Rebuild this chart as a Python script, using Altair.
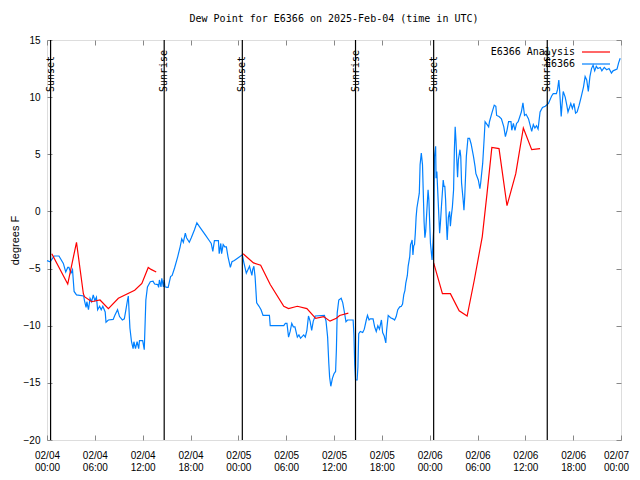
import altair as alt
import pandas as pd

FONT = "DejaVu Sans Mono"

# observed dew point (hours since 2025-02-04 00:00 UTC, deg F)
obs_feb04 = [
    (0.0, -4.3), (0.4, -4.4), (0.9, -3.9), (1.5, -3.9), (2.05, -4.55), (2.35, -5.3),
    (2.6, -4.9), (2.75, -4.9), (3.0, -5.4), (3.2, -5.1), (3.4, -7.0), (3.7, -7.3),
    (4.6, -7.4), (4.7, -7.8), (4.9, -8.4), (5.0, -7.9), (5.2, -8.6), (5.4, -7.6),
    (5.6, -7.9), (5.8, -7.3), (6.0, -7.8), (6.2, -7.5), (6.35, -8.6), (6.6, -8.3),
    (6.8, -8.6), (7.0, -8.3), (7.3, -8.8), (7.4, -9.7), (7.7, -9.5), (8.3, -9.45),
    (8.5, -9.1), (8.85, -8.6), (9.1, -9.2), (9.45, -9.5), (9.7, -9.4), (9.9, -8.6),
    (10.1, -7.75), (10.2, -7.4), (10.4, -10.2), (10.6, -11.4), (10.8, -12.0),
    (10.9, -11.4), (11.1, -12.0), (11.3, -11.4), (11.5, -12.0), (11.6, -11.3),
    (12.0, -11.3), (12.2, -12.1), (12.4, -7.75), (12.6, -6.6), (12.96, -6.15),
    (13.3, -6.1), (13.5, -6.35), (13.9, -6.4), (14.0, -6.65), (14.1, -6.0),
    (14.3, -6.6), (14.4, -5.85), (14.6, -6.6), (14.7, -6.0), (14.8, -6.6),
    (15.05, -6.65), (15.2, -6.65), (15.5, -5.7), (15.7, -5.6), (16.0, -4.95),
    (16.4, -3.95), (16.7, -3.1), (16.9, -2.4), (17.1, -2.7), (17.35, -1.9),
    (17.5, -2.3), (17.85, -2.7), (18.1, -2.3), (18.5, -1.6), (18.8, -1.0),
    (19.1, -1.3), (19.5, -1.7), (19.9, -2.1), (20.3, -2.5), (20.6, -2.8),
    (20.8, -3.5), (21.0, -2.55), (21.5, -2.55), (21.6, -3.7), (21.8, -2.8),
    (21.9, -3.7), (22.1, -2.9), (22.3, -3.1), (22.5, -3.1), (22.7, -3.95),
    (23.0, -4.9), (23.2, -4.4), (23.5, -4.3), (23.9, -4.1),
]
obs_feb05 = [
    (24.5, -3.8), (24.7, -4.5), (25.0, -5.4), (25.2, -5.1), (25.4, -4.8), (25.7, -5.6),
    (25.8, -5.1), (25.95, -4.8), (26.1, -5.7), (26.3, -8.0), (26.6, -8.3), (26.85, -8.6),
    (27.1, -9.1), (27.9, -9.1), (28.0, -10.0), (29.7, -10.0), (29.9, -9.8), (30.1, -9.8),
    (30.3, -11.0), (30.5, -10.5), (30.7, -9.8), (30.9, -10.1), (31.1, -10.1),
    (31.4, -11.0), (31.6, -10.8), (31.8, -11.1), (32.2, -10.8), (32.4, -11.0),
    (32.6, -10.4), (32.8, -9.15), (33.0, -9.6), (33.2, -10.4), (33.4, -9.6),
    (33.65, -9.15), (34.8, -9.1), (35.0, -9.6), (35.2, -11.0), (35.35, -13.3),
    (35.45, -14.5), (35.6, -15.3), (35.8, -14.6), (36.0, -14.2), (36.2, -14.0),
    (36.3, -12.1), (36.4, -8.9), (36.6, -7.75), (36.9, -7.6), (37.1, -8.0),
    (37.3, -8.8), (37.5, -9.65), (37.7, -9.5), (38.4, -9.5), (38.5, -10.8),
    (38.6, -13.4), (38.7, -14.75), (38.9, -14.75), (39.0, -13.6), (39.1, -10.7),
    (39.3, -10.5), (39.6, -10.6), (39.8, -10.3), (40.05, -9.5), (40.2, -9.1),
    (40.4, -9.5), (40.55, -9.4), (40.9, -9.4), (41.1, -10.1), (41.3, -10.5),
    (41.5, -10.0), (41.7, -10.3), (41.95, -9.5), (42.1, -10.6), (42.3, -10.9),
    (42.5, -11.5), (42.6, -10.4), (42.8, -9.1), (43.1, -9.3), (43.4, -9.4),
    (43.6, -9.5), (43.8, -9.2), (44.0, -8.6), (44.25, -8.35), (44.45, -8.3),
    (44.6, -8.1), (44.75, -7.3), (44.9, -6.9), (45.0, -6.3), (45.2, -5.6),
    (45.3, -4.8), (45.5, -3.95), (45.6, -2.9), (45.7, -2.75), (45.8, -2.5),
    (45.9, -3.8), (46.0, -3.0), (46.1, -2.9), (46.2, -1.9), (46.3, -0.5),
    (46.4, 0.3), (46.7, 1.6), (46.8, 4.1), (46.95, 5.1), (47.1, 4.1), (47.2, 1.6),
    (47.3, -0.9), (47.4, -2.3), (47.5, -1.75), (47.6, -0.5), (47.8, 1.9), (47.9, 1.0),
]
obs_feb06 = [
    (48.1, -2.8), (48.3, -4.25), (48.5, -1.6), (48.6, 4.8), (48.75, 5.7), (48.8, 2.9),
    (48.9, 3.5), (49.1, 0.4), (49.25, -1.9), (49.35, -1.0), (49.5, 0.7), (49.7, 2.75),
    (49.8, 2.2), (49.9, 2.2), (50.0, 1.0), (50.1, -1.0), (50.2, -2.5), (50.35, -0.5),
    (50.5, 0.0), (50.6, -1.3), (50.7, -0.5), (50.85, 0.4), (51.0, 1.9), (51.1, 5.4),
    (51.2, 7.4), (51.3, 6.2), (51.4, 4.5), (51.5, 3.0), (51.6, 4.5), (51.8, 5.4),
    (51.9, 4.8), (52.0, 2.5), (52.2, 1.0), (52.3, 0.1), (52.4, 1.3), (52.6, 4.8),
    (52.8, 6.4), (53.0, 6.4), (53.2, 5.9), (53.5, 4.8), (53.7, 3.9), (53.8, 3.3),
    (54.1, 2.75), (54.3, 2.0), (54.4, 2.5), (54.65, 4.2), (54.85, 6.55), (54.95, 7.85),
    (55.1, 7.7), (55.4, 7.4), (55.5, 7.85), (55.8, 8.6), (56.1, 9.3), (56.3, 9.2),
    (56.4, 8.4), (56.7, 8.3), (57.0, 8.1), (57.3, 7.4), (57.5, 6.55), (57.7, 7.1),
    (57.9, 7.85), (58.2, 7.85), (58.3, 7.1), (58.5, 7.7), (58.7, 7.1), (58.9, 7.7),
    (59.1, 7.85), (59.5, 8.7), (59.7, 9.5), (59.9, 8.4), (60.1, 8.5), (60.4, 8.1),
    (60.8, 7.0), (61.0, 7.6), (61.2, 7.3), (61.4, 7.5), (61.6, 7.2), (61.85, 8.7),
    (62.15, 9.1), (62.5, 9.2), (62.9, 9.45), (63.3, 10.1), (63.5, 10.3), (63.9, 10.3),
    (64.05, 10.7), (64.2, 11.5), (64.3, 10.6), (64.5, 8.3), (64.6, 9.3), (64.75, 10.5),
    (65.0, 10.0), (65.2, 9.3), (65.35, 8.7), (65.5, 9.0), (65.7, 9.45), (65.9, 9.0),
    (66.1, 9.45), (66.3, 8.6), (66.5, 8.7), (66.75, 9.3), (67.0, 10.0), (67.3, 10.9),
    (67.5, 11.8), (67.7, 11.5), (67.9, 10.5), (68.1, 11.8), (68.3, 12.5), (68.5, 12.8),
    (68.7, 12.3), (68.9, 12.7), (69.1, 12.5), (69.4, 12.6), (69.6, 12.3), (69.9, 12.6),
    (70.2, 12.4), (70.5, 12.5), (70.8, 12.1), (71.0, 12.3), (71.5, 12.45), (71.7, 13.0),
    (71.9, 13.4),
]

# analysis dew point, three separate segments
ana_seg1 = [
    (0.6, -3.7), (2.6, -6.35), (3.7, -2.7), (4.56, -7.2), (4.7, -7.46), (5.6, -7.9),
    (6.65, -7.75), (7.7, -8.5), (8.95, -7.6), (11.0, -6.9), (11.9, -6.3), (12.7, -4.9),
    (13.05, -5.07), (13.7, -5.3),
]
ana_seg2 = [
    (24.6, -3.7), (25.9, -4.5), (26.8, -4.7), (28.0, -6.4), (29.7, -8.3), (30.3, -8.5),
    (31.4, -8.3), (32.6, -8.5), (33.7, -9.35), (34.7, -9.2), (35.5, -9.6), (36.3, -9.35),
    (36.7, -9.1), (37.8, -8.9),
]
ana_seg3 = [
    (48.5, -4.5), (49.6, -7.2), (50.6, -7.2), (51.7, -8.7), (52.7, -9.15), (53.6, -6.0),
    (54.6, -2.2), (55.2, 1.6), (55.8, 5.6), (56.7, 5.5), (57.7, 0.5), (58.8, 3.3),
    (59.75, 7.3), (60.8, 5.4), (61.85, 5.5),
]

sun_hours = [0.45, 14.7, 24.5, 38.7, 48.5, 62.75]
sun_labels = ["Sunset", "Sunrise", "Sunset", "Sunrise", "Sunset", "Sunrise"]

tick_hours = list(range(0, 73, 6))
y_ticks = [-20, -15, -10, -5, 0, 5, 10, 15]
series_names = ["E6366 Analysis", "E6366"]
series_colors = ["#ff0000", "#0080ff"]

BASE = pd.Timestamp("2025-02-04 00:00:00")


def ms(h):
    return int((BASE + pd.Timedelta(hours=h)).timestamp() * 1000)


rows = []
for h, v in obs_feb04 + obs_feb05 + obs_feb06:
    rows.append({"t": ms(h), "v": v, "series": "E6366", "seg": "obs"})
for seg_id, seg in enumerate([ana_seg1, ana_seg2, ana_seg3]):
    for h, v in seg:
        rows.append({"t": ms(h), "v": v, "series": "E6366 Analysis", "seg": f"ana{seg_id}"})
line_df = pd.DataFrame(rows)

sun_df = pd.DataFrame({"t": [ms(h) for h in sun_hours], "label": sun_labels})

tick_ms = [ms(h) for h in tick_hours]
xscale = alt.Scale(type="utc", domain=[ms(0), ms(72)])
yscale = alt.Scale(domain=[-20, 15], nice=False, zero=False)

bottom_axis = alt.Axis(
    values=tick_ms,
    labelExpr="[utcFormat(datum.value, '%m/%d'), utcFormat(datum.value, '%H:%M')]",
    offset=-5, tickSize=5, domain=False, grid=False, labelPadding=10,
    labelLineHeight=12, labelAngle=0, labelFlush=False, labelOverlap=False,
    labelOffset={"condition": {"test": f"time(datum.value) >= {tick_ms[-1]}", "value": -5},
                 "value": 0},
)
left_axis = alt.Axis(
    values=y_ticks, offset=-5, tickSize=5, domain=False, grid=False,
    labelPadding=7, titlePadding=3, titleFontWeight="normal", labelFlush=False,
)
top_axis = alt.Axis(orient="top", values=tick_ms, labels=False, offset=-5,
                    tickSize=5, domain=False, grid=False)
right_axis = alt.Axis(orient="right", values=y_ticks, labels=False, offset=-5,
                      tickSize=5, domain=False, grid=False)

lines = alt.Chart(line_df).mark_line(strokeWidth=1.2).encode(
    x=alt.X("t:T", scale=xscale, axis=bottom_axis, title=None),
    y=alt.Y("v:Q", scale=yscale, axis=left_axis, title="degrees F"),
    color=alt.Color(
        "series:N",
        scale=alt.Scale(domain=series_names, range=series_colors),
        legend=alt.Legend(
            title=None, orient="none", legendX=518, legendY=7,
            symbolType="M6,0H20", symbolSize=16, symbolStrokeWidth=1.2,
            labelAlign="right", labelOffset=0, labelFont=FONT, labelFontSize=10,
            labelColor="black", rowPadding=2, padding=0,
        ),
    ),
    detail="seg:N",
)

rules = alt.Chart(sun_df).mark_rule(color="black", strokeWidth=1.2).encode(
    x=alt.X("t:T", scale=xscale, axis=None),
)

sun_text = alt.Chart(sun_df).mark_text(
    angle=270, align="left", baseline="middle", font=FONT, fontSize=10, color="black"
).encode(
    x=alt.X("t:T", scale=xscale, axis=None),
    y=alt.value(52),
    text="label:N",
)

mirror = alt.Chart(line_df).mark_line(strokeOpacity=0).encode(
    x=alt.X("t:T", scale=xscale, axis=top_axis, title=None),
    y=alt.Y("v:Q", scale=yscale, axis=right_axis, title=None),
    detail="seg:N",
)

chart = alt.layer(lines, rules, sun_text, mirror).resolve_axis(
    x="independent", y="independent"
).properties(
    width=574, height=400,
    padding={"left": 39, "top": 32, "right": 11, "bottom": 32},
    autosize=alt.AutoSizeParams(type="none"),
    title=alt.TitleParams(
        "Dew Point for E6366 on 2025-Feb-04 (time in UTC)",
        font=FONT, fontSize=10, fontWeight="normal", anchor="middle",
        offset=11, color="black",
    ),
).configure_view(stroke="black", strokeWidth=1).configure_axis(
    labelFont=FONT, labelFontSize=10, titleFont=FONT, titleFontSize=10,
    tickColor="black", labelColor="black", titleColor="black", tickWidth=1,
).configure(background="white")

chart.save("out.html", embed_options={"renderer": "svg", "actions": False})
